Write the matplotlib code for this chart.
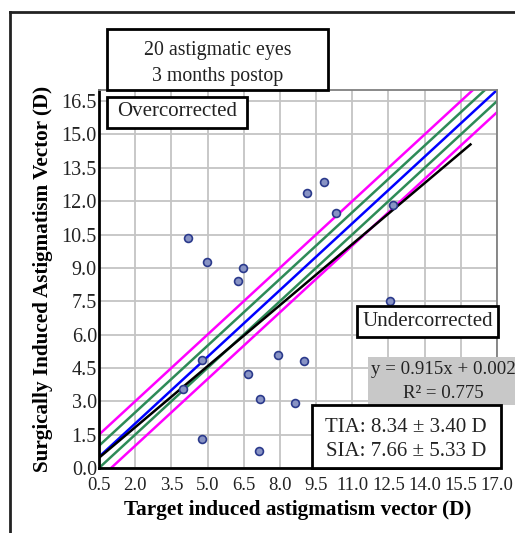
import numpy as np
import matplotlib
matplotlib.use("Agg")
import matplotlib.pyplot as plt
from matplotlib.patches import Rectangle

plt.rcParams['font.family'] = ['Liberation Serif', 'DejaVu Serif']

# target induced (TIA) vs surgically induced (SIA) astigmatism, D
tia = [4.17, 4.96, 6.46, 6.28, 9.11, 9.82, 10.33, 12.70, 12.58, 7.92,
       9.01, 7.17, 8.63, 7.14, 6.67, 4.76, 4.78, 3.97]
sia = [10.35, 9.26, 8.99, 8.42, 12.37, 12.85, 11.46, 11.85, 7.51, 5.06,
       4.80, 3.12, 2.94, 0.78, 4.23, 4.85, 1.30, 3.56]

slope = 0.915
intercept = 0.002
fit_x = [0.5, 15.9]

ticks_x = [0.5, 2.0, 3.5, 5.0, 6.5, 8.0, 9.5, 11.0, 12.5, 14.0, 15.5, 17.0]
ticks_y = [0.0, 1.5, 3.0, 4.5, 6.0, 7.5, 9.0, 10.5, 12.0, 13.5, 15.0, 16.5]

W, H = 515, 533
fig = plt.figure(figsize=(W / 100, H / 100), dpi=100)


def fx(px):
    return px / W


def fy(py):
    return 1 - py / H


ax = fig.add_axes([fx(99), fy(468), fx(497) - fx(99), fy(90) - fy(468)])
ax.set_xlim(0.5, 17.0)
ax.set_ylim(0.0, 17.0)
ax.set_xticks(ticks_x)
ax.set_yticks(ticks_y)
ax.set_xticklabels([f"{t:.1f}" for t in ticks_x])
ax.set_yticklabels([f"{t:.1f}" for t in ticks_y])
ax.tick_params(length=0, colors='#222222')
ax.tick_params(axis='x', pad=6.5, labelsize=13.5)
ax.tick_params(axis='y', pad=1.5, labelsize=14.5)
ax.grid(True, color='#c4c4c4', linewidth=1.3)
ax.set_axisbelow(True)
for s in ['top', 'right']:
    ax.spines[s].set_color('#808080')
    ax.spines[s].set_linewidth(1.3)
for s in ['left', 'bottom']:
    ax.spines[s].set_color('black')
    ax.spines[s].set_linewidth(2)

# reference lines
xx = np.array([0.5, 17.0])
ax.plot(xx, xx + 1.0, color='#ff00ff', lw=1.8, zorder=2)
ax.plot(xx, xx - 1.0, color='#ff00ff', lw=1.8, zorder=2)
ax.plot(xx, xx + 0.5, color='#2e8b57', lw=1.8, zorder=2)
ax.plot(xx, xx - 0.5, color='#2e8b57', lw=1.8, zorder=2)
ax.plot(xx, xx, color='#0000ff', lw=1.8, zorder=2)
fx_arr = np.array(fit_x)
ax.plot(fx_arr, slope * fx_arr + intercept, color='black', lw=1.8, zorder=3)

ax.scatter(tia, sia, s=32, facecolor='#8893c4', edgecolor='#2b3a8c',
           linewidth=1.2, zorder=4)

ax.set_xlabel("Target induced astigmatism vector (D)", fontsize=15.3,
              fontweight='bold', labelpad=4)
ax.set_ylabel("Surgically Induced Astigmatism Vector (D)", fontsize=15.2,
              fontweight='bold', labelpad=6)


def box(x0, y0, x1, y1, fc='white', ec='black', lw=2):
    r = Rectangle((fx(x0), fy(y1)), fx(x1) - fx(x0), fy(y0) - fy(y1),
                  transform=fig.transFigure, facecolor=fc, edgecolor=ec,
                  linewidth=lw, zorder=5)
    fig.add_artist(r)


def label(x, y, s, size=15):
    fig.text(fx(x), fy(y), s, ha='center', va='center', fontsize=size,
             color='#222222', zorder=6)


# outer frame
fig.add_artist(plt.Line2D([fx(10), fx(10)], [fy(12), 0], transform=fig.transFigure,
                          color='#222222', lw=2))
fig.add_artist(plt.Line2D([fx(10), 1], [fy(12), fy(12)], transform=fig.transFigure,
                          color='#222222', lw=2))

box(107, 29, 328, 90)
label(218, 50, "20 astigmatic eyes", 14.3)
label(218, 77, "3 months postop", 14.3)

box(107, 97, 247, 128)
label(177, 112, "Overcorrected")

box(357, 306, 498, 337)
label(428, 321, "Undercorrected")

box(368, 357, 530, 405, fc='#c8c8c8', ec='none', lw=0)
label(443, 370, "y = 0.915x + 0.002", 13.6)
label(443, 393, "R² = 0.775", 13.6)

box(312, 405, 501, 468)
label(406, 427, "TIA: 8.34 ± 3.40 D")
label(406, 452, "SIA: 7.66 ± 5.33 D")

fig.savefig("out.png", dpi=100)
